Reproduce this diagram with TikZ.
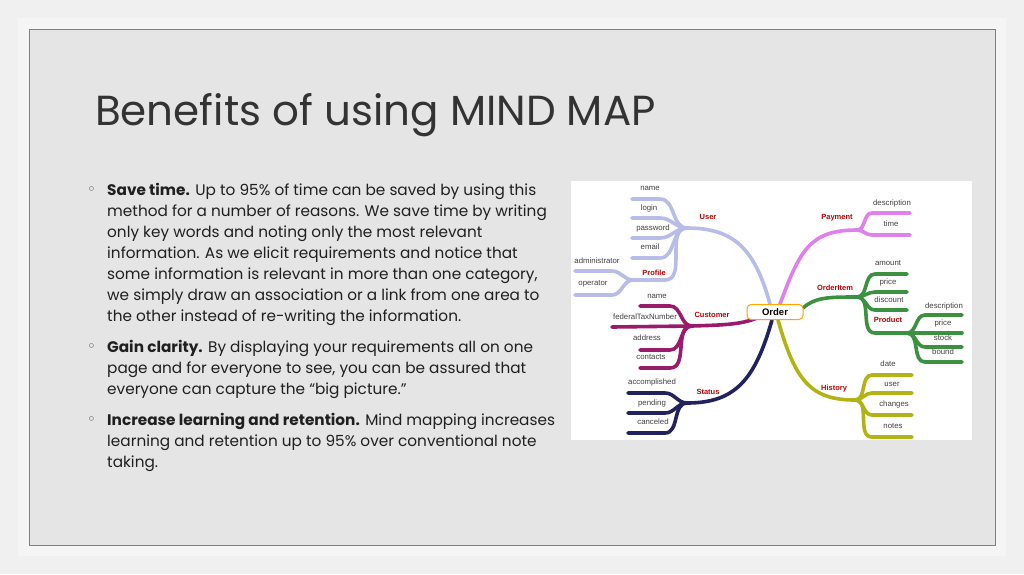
\documentclass[tikz,border=0pt]{standalone}
\usepackage{fontspec}
\setmainfont{Poppins}
\newfontfamily\mapfont{Liberation Sans}
\newfontfamily\symfont{DejaVu Sans}
\begin{document}
\begin{tikzpicture}[x=1pt,y=-1pt,
  br/.style={line width=3.6pt,line cap=round},
  leaf/.style={font=\mapfont\fontsize{7.8}{8}\selectfont,text=black!75,inner sep=0pt},
  lab/.style={font=\mapfont\bfseries\fontsize{7.5}{8}\selectfont,text=red!75!black,inner sep=0pt},
  body/.style={anchor=base west,inner sep=0pt,font=\fontsize{15.3}{16}\selectfont,text=black!88},
  bul/.style={anchor=base west,inner sep=0pt,font=\symfont\fontsize{15}{16}\selectfont,text=black!70}]
\definecolor{cuser}{HTML}{B8BCE8}
\definecolor{cpay}{HTML}{E080EC}
\definecolor{citem}{HTML}{3C9140}
\definecolor{chist}{HTML}{B3B316}
\definecolor{ccust}{HTML}{9A1A6C}
\definecolor{cstat}{HTML}{22225E}
\useasboundingbox (0,0) rectangle (1024,574);
\fill[white!94!black] (0,0) rectangle (1024,574);
\fill[white!96!black] (18,18) rectangle (1006,556);
\filldraw[fill=white!90!black,draw=black!50,line width=1pt] (29,29) rectangle (995,545);
\node[anchor=base west,inner sep=0pt,font=\fontsize{42}{48}\selectfont,text=black!80] (title) at (95,125) {Benefits of using MIND MAP};
% body
\node[bul] (b1) at (87,194) {◦};
\node[body] (l1) at (107,195) {\textbf{Save time.} Up to 95\% of time can be saved by using this};
\node[body] (l2) at (107,216) {method for a number of reasons. We save time by writing};
\node[body] (l3) at (107,237) {only key words and noting only the most relevant};
\node[body] (l4) at (107,258) {information. As we elicit requirements and notice that};
\node[body] (l5) at (107,279) {some information is relevant in more than one category,};
\node[body] (l6) at (107,300) {we simply draw an association or a link from one area to};
\node[body] (l7) at (107,321) {the other instead of re-writing the information.};
\node[bul] (b2) at (87,351) {◦};
\node[body] (m1) at (107,352) {\textbf{Gain clarity.} By displaying your requirements all on one};
\node[body] (m2) at (107,373) {page and for everyone to see, you can be assured that};
\node[body] (m3) at (107,394) {everyone can capture the “big picture.”};
\node[bul] (b3) at (87,424) {◦};
\node[body] (n1) at (107,425) {\textbf{Increase learning and retention.} Mind mapping increases};
\node[body] (n2) at (107,446) {learning and retention up to 95\% over conventional note};
\node[body] (n3) at (107,467) {taking.};
% mind map
\fill[white] (571,181) rectangle (972,440);
% User
\draw[br,cuser] (770,304) .. controls (755,250) and (735,228) .. (687,228);
\foreach \y in {199,218,238,258} \draw[br,cuser] (632,\y) -- (660,\y) to[out=0,in=180] (687,228);
\draw[br,cuser] (633,280) -- (665,280) to[out=0,in=180] (687,228);
\draw[br,cuser] (575,271) -- (612,271) to[out=0,in=180] (633,280);
\draw[br,cuser] (575,295) -- (612,295) to[out=0,in=180] (633,280);
% Payment
\draw[br,cpay] (780,304) .. controls (800,250) and (810,230) .. (857,230);
\foreach \y in {213,235} \draw[br,cpay] (857,230) to[out=0,in=180] (872,\y) -- (910,\y);
% OrderItem
\draw[br,citem] (803,308) .. controls (815,297) and (830,297) .. (857,297);
\foreach \y in {274,292,310,333} \draw[br,citem] (857,297) to[out=0,in=180] (875,\y) -- (907,\y);
\foreach \y in {315,333,347,362} \draw[br,citem] (907,333) to[out=0,in=180] (925,\y) -- (962,\y);
% History
\draw[br,chist] (778,320) .. controls (795,380) and (810,400) .. (855,400);
\foreach \y in {375,393,415,437} \draw[br,chist] (855,400) to[out=0,in=180] (872,\y) -- (912,\y);
% Customer
\draw[br,ccust] (757,318) .. controls (740,325) and (720,325) .. (692,326);
\draw[br,ccust] (612,327) -- (692,326);
\foreach \y in {306,350,368} \draw[br,ccust] (640,\y) -- (670,\y) to[out=0,in=180] (692,326);
% Status
\draw[br,cstat] (772,320) .. controls (755,380) and (735,403) .. (687,403);
\foreach \y in {393,413,433} \draw[br,cstat] (628,\y) -- (665,\y) to[out=0,in=180] (687,403);
% Order node
\node[draw=orange!70!yellow,line width=1pt,fill=white,rounded corners=4pt,minimum width=56pt,minimum height=15pt,inner sep=0pt,font=\mapfont\bfseries\fontsize{9.5}{10}\selectfont] (order) at (775,312) {Order};
% labels
\node[lab] (user) at (708,217) {User};
\node[lab] (profile) at (654,273) {Profile};
\node[lab] (payment) at (837,218) {Payment};
\node[lab] (orderitem) at (835,288) {OrderItem};
\node[lab] (product) at (888,320) {Product};
\node[lab] (history) at (834,389) {History};
\node[lab] (customer) at (712,315) {Customer};
\node[lab] (status) at (708,392) {Status};
\node[leaf] (t1) at (650,188) {name};
\node[leaf] (t2) at (649,208) {login};
\node[leaf] (t3) at (653,228) {password};
\node[leaf] (t4) at (650,247) {email};
\node[leaf] (t5) at (597,261) {administrator};
\node[leaf] (t6) at (593,284) {operator};
\node[leaf] (t7) at (892,203) {description};
\node[leaf] (t8) at (891,224) {time};
\node[leaf] (t9) at (888,263) {amount};
\node[leaf] (t10) at (888,282) {price};
\node[leaf] (t11) at (889,300) {discount};
\node[leaf] (t12) at (944,306) {description};
\node[leaf] (t13) at (943,323) {price};
\node[leaf] (t14) at (943,338) {stock};
\node[leaf] (t15) at (943,352) {bound};
\node[leaf] (t16) at (888,364) {date};
\node[leaf] (t17) at (892,384) {user};
\node[leaf] (t18) at (894,404) {changes};
\node[leaf] (t19) at (893,426) {notes};
\node[leaf] (t20) at (657,296) {name};
\node[leaf] (t21) at (645,317) {federalTaxNumber};
\node[leaf] (t22) at (647,338) {address};
\node[leaf] (t23) at (651,357) {contacts};
\node[leaf] (t24) at (652,382) {accomplished};
\node[leaf] (t25) at (652,403) {pending};
\node[leaf] (t26) at (653,422) {canceled};
\end{tikzpicture}
\end{document}
